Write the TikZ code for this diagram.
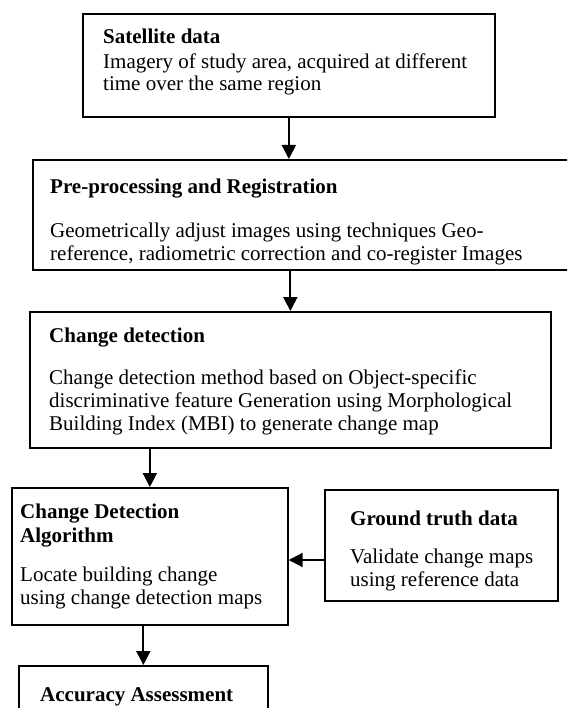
\documentclass[tikz,border=0pt]{standalone}
\usepackage{fontspec}
\setmainfont{Liberation Serif}
\usetikzlibrary{arrows.meta}
\tikzset{
  box/.style={draw, line width=1.7pt, rectangle, inner sep=0pt, anchor=north west},
  txt/.style={anchor=base west, inner sep=0pt, font=\fontsize{21pt}{24pt}\selectfont},
  conn/.style={line width=2pt, -{Triangle[width=14pt,length=14pt]}}
}
\begin{document}
\begin{tikzpicture}[x=1pt,y=-1pt]
\useasboundingbox (0,0) rectangle (567,708);
\clip (0,0) rectangle (567,708);
% boxes
\node[box, minimum width=412pt, minimum height=103pt] (b1) at (82,13) {};
\node[box, minimum width=560pt, minimum height=110pt] (b2) at (32,159) {};
\node[box, minimum width=521pt, minimum height=136pt] (b3) at (29,311) {};
\node[box, minimum width=276pt, minimum height=137pt] (b4) at (11,487) {};
\node[box, minimum width=233pt, minimum height=111pt] (b5) at (324,489) {};
\node[box, minimum width=249pt, minimum height=80pt] (b6) at (18,665) {};
% texts
\node[txt] (t1a) at (103,44) {\textbf{Satellite data}};
\node[txt] (t1b) at (103,69) {Imagery of study area, acquired at different};
\node[txt] (t1c) at (103,91) {time over the same region};
\node[txt] (t2a) at (50,194) {\textbf{Pre-processing and Registration}};
\node[txt] (t2b) at (50,238) {Geometrically adjust images using techniques Geo-};
\node[txt] (t2c) at (50,260) {reference, radiometric correction and co-register Images};
\node[txt] (t3a) at (49,342) {\textbf{Change detection}};
\node[txt] (t3b) at (49,384) {Change detection method based on Object-specific};
\node[txt] (t3c) at (49,407) {discriminative feature Generation using Morphological};
\node[txt] (t3d) at (49,430) {Building Index (MBI) to generate change map};
\node[txt] (t4a) at (20,518) {\textbf{Change Detection}};
\node[txt] (t4b) at (20,542) {\textbf{Algorithm}};
\node[txt] (t4c) at (20,581) {Locate building change};
\node[txt] (t4d) at (20,604) {using change detection maps};
\node[txt] (t5a) at (350,525) {\textbf{Ground truth data}};
\node[txt] (t5b) at (350,563) {Validate change maps};
\node[txt] (t5c) at (350,586) {using reference data};
\node[txt] (t6a) at (40,701) {\textbf{Accuracy Assessment}};
% connectors
\draw[conn] (b1.south) -- (b1.south |- b2.north);
\draw[conn] (b3.north |- b2.south) -- (b3.north);
\draw[conn] (b4.north |- b3.south) -- (b4.north);
\coordinate (gy) at (0,560);
\draw[conn] (b5.west |- gy) -- (b4.east |- gy);
\draw[conn] (b6.north |- b4.south) -- (b6.north);
\end{tikzpicture}
\end{document}
